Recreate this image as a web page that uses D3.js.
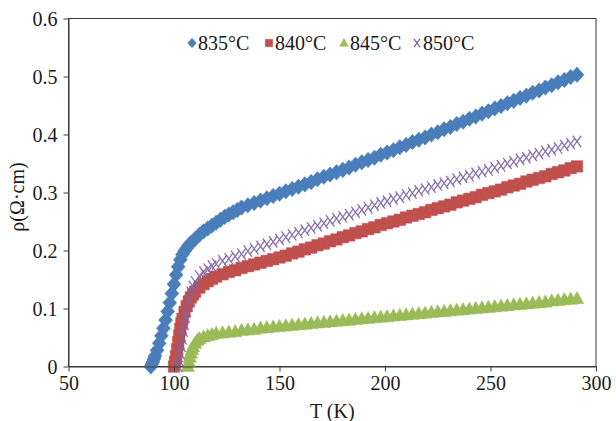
<!DOCTYPE html>
<html><head><meta charset="utf-8">
<script src="https://cdn.jsdelivr.net/npm/d3@7"></script>
<style>
body{margin:0;background:#fff}
svg{display:block}
</style>
</head><body>
<svg id="c" width="616" height="421"></svg>
<script>
const seriesNames = ["835°C", "840°C", "845°C", "850°C"];
const seriesColors = ["#4A7EBB", "#C0504D", "#9BBB59", "#8064A2"];
const xTickValues = [50, 100, 150, 200, 250, 300];
const yTickValues = [0, 0.1, 0.2, 0.3, 0.4, 0.5, 0.6];
const xLabel = "T (K)";
const yLabel = "ρ(Ω·cm)";

const t835 = [89,89.5,90,90.5,91,92,93,94,95,96,97,98,99,100,101,102,103,104,105,106,107,108,
  110,112,114,116,118,120,122,124,126,128,130,132,
  135,138,141,144,147,150,153,156,159,162,165,168,171,174,177,180,183,186,189,192,195,198,201,204,207,210,
  213,216,219,222,225,228,231,234,237,240,243,246,249,252,255,258,261,264,267,270,273,276,279,282,285,288,291];
const r835 = [0,.004,.008,.013,.018,.028,.040,.053,.066,.080,.095,.110,.126,.142,.158,.172,.184,.193,.199,.204,.209,.213,
  .220,.227,.233,.238,.243,.248,.253,.258,.262,.266,.270,.274,
  .278,.282,.286,.290,.294,.298,.302,.306,.310,.314,.318,.323,.327,.331,.335,.339,.343,.348,.352,.356,.360,.365,.369,.373,.378,.382,
  .387,.391,.395,.400,.404,.409,.413,.418,.422,.427,.431,.436,.440,.445,.449,.454,.458,.463,.467,.472,.476,.481,.485,.490,.494,.499,.503];

const t840 = [100,100.5,101,101.5,102,102.5,103,103.5,104,105,106,107,108,109,110,112,114,116,118,120,
  123,126,129,132,135,138,141,144,147,150,153,156,159,162,165,168,171,174,177,180,183,186,189,192,195,198,201,204,207,210,
  213,216,219,222,225,228,231,234,237,240,243,246,249,252,255,258,261,264,267,270,273,276,279,282,285,288,291];
const r840 = [0,.008,.018,.030,.042,.054,.065,.074,.082,.094,.104,.112,.119,.124,.129,.136,.142,.147,.151,.155,
  .159,.163,.166,.170,.173,.176,.179,.182,.185,.188,.191,.195,.198,.202,.205,.209,.212,.216,.219,.223,.226,.230,.233,.237,.240,.244,.247,.250,.253,.257,
  .260,.263,.266,.270,.273,.276,.279,.283,.286,.289,.292,.296,.299,.302,.305,.309,.312,.315,.319,.322,.325,.328,.332,.335,.338,.342,.345];

const t845 = [106.5,107,107.5,108,108.5,109,110,111,112,114,116,118,
  120,123,126,129,132,135,138,141,144,147,150,153,156,159,162,165,168,171,174,177,180,183,186,189,192,195,198,201,204,207,210,
  213,216,219,222,225,228,231,234,237,240,243,246,249,252,255,258,261,264,267,270,273,276,279,282,285,288,291];
const r845 = [0,.008,.016,.023,.029,.034,.040,.045,.048,.051,.053,.055,
  .057,.058,.059,.060,.062,.063,.064,.066,.067,.068,.069,.070,.071,.072,.073,.074,.075,.076,.077,.078,.079,.080,.081,.082,.083,.084,.085,.086,.087,.088,.089,
  .090,.091,.092,.093,.094,.095,.096,.097,.098,.099,.100,.101,.102,.103,.104,.105,.106,.107,.108,.109,.110,.111,.113,.114,.115,.116,.117];

const t850 = [102,102.5,103,103.5,104,104.5,105,105.5,106,107,108,109,110,112,114,116,118,120,
  123,126,129,132,135,138,141,144,147,150,153,156,159,162,165,168,171,174,177,180,183,186,189,192,195,198,201,204,207,210,
  213,216,219,222,225,228,231,234,237,240,243,246,249,252,255,258,261,264,267,270,273,276,279,282,285,288,291];
const r850 = [0,.010,.022,.035,.048,.061,.073,.085,.096,.114,.128,.138,.146,.156,.163,.168,.173,.177,
  .182,.186,.190,.194,.199,.203,.207,.211,.215,.219,.223,.227,.231,.235,.239,.243,.247,.251,.255,.258,.262,.266,.270,.274,.278,.282,.285,.289,.292,.296,
  .299,.303,.306,.309,.313,.316,.319,.323,.326,.329,.333,.336,.339,.343,.346,.350,.353,.357,.360,.364,.367,.371,.374,.377,.381,.384,.388];

const seriesT = [t835, t840, t845, t850];
const seriesR = [r835, r840, r845, r850];
const shapes = ["diamond", "square", "triangle", "cross"];
const drawOrder = [0, 1, 2, 3];

const svg = d3.select("#c");
const margin = {left: 68.5, right: 20, top: 18.5, bottom: 54.5};
const W = 616, H = 421;
const x = d3.scaleLinear().domain([50, 300]).range([margin.left, W - margin.right]);
const y = d3.scaleLinear().domain([0, 0.6]).range([H - margin.bottom, margin.top]);

const FONT = '"Liberation Serif"';
const axisColor = "#3a3a3a";
const textColor = "#1a1a1a";

function markerPath(shape, s) {
  const p = d3.path();
  if (shape === "diamond") {
    p.moveTo(0, -s * 1.05); p.lineTo(s * 0.95, 0); p.lineTo(0, s * 1.05); p.lineTo(-s * 0.95, 0); p.closePath();
  } else if (shape === "square") {
    p.rect(-s * 0.8, -s * 0.8, s * 1.6, s * 1.6);
  } else if (shape === "triangle") {
    p.moveTo(0, -s * 1.0); p.lineTo(s * 0.95, s * 0.7); p.lineTo(-s * 0.95, s * 0.7); p.closePath();
  } else {
    p.moveTo(-s * 0.7, -s * 0.95); p.lineTo(s * 0.7, s * 0.95);
    p.moveTo(s * 0.7, -s * 0.95); p.lineTo(-s * 0.7, s * 0.95);
  }
  return p.toString();
}

// plot frame
svg.append("rect").attr("x", x(50)).attr("y", y(0.6))
  .attr("width", x(300) - x(50)).attr("height", y(0) - y(0.6))
  .attr("fill", "none").attr("stroke", axisColor).attr("stroke-width", 1);

// series
const plot = svg.append("g");
const markerSize = {diamond: 7.4, square: 7.2, triangle: 7.2, cross: 6.0};
drawOrder.forEach(i => {
  const n = Math.min(seriesT[i].length, seriesR[i].length);
  const pts = d3.range(n).map(k => [seriesT[i][k], seriesR[i][k]]);
  const g = plot.append("g");
  const shape = shapes[i];
  g.selectAll("path").data(pts).join("path")
    .attr("transform", d => `translate(${x(d[0])},${y(d[1])})`)
    .attr("d", markerPath(shape, markerSize[shape]))
    .attr("fill", shape === "cross" ? "none" : seriesColors[i])
    .attr("stroke", seriesColors[i])
    .attr("stroke-opacity", shape === "cross" ? 0.9 : 0.6)
    .attr("stroke-width", shape === "cross" ? 1.3 : 0.8);
});

// axes
const xAxis = d3.axisBottom(x).tickValues(xTickValues).tickSize(5).tickSizeOuter(0).tickFormat(d3.format("d"));
const yAxis = d3.axisLeft(y).tickValues(yTickValues).tickSize(5).tickSizeOuter(0).tickFormat(d => d === 0 ? "0" : d3.format(".1f")(d));
const gx = svg.append("g").attr("transform", `translate(0,${y(0)})`).call(xAxis);
const gy = svg.append("g").attr("transform", `translate(${x(50)},0)`).call(yAxis);
[gx, gy].forEach(g => {
  g.attr("font-family", null).attr("font-size", null);
  g.select(".domain").attr("stroke", axisColor);
  g.selectAll(".tick line").attr("stroke", axisColor);
  g.selectAll(".tick text").style("font-family", FONT).style("font-size", "20px").attr("fill", textColor);
});
gx.selectAll(".tick text").attr("dy", "0.71em").attr("y", 9);
gy.selectAll(".tick text").attr("x", -11).attr("dy", "0.35em");

// axis titles
svg.append("text").attr("x", (x(50) + x(300)) / 2).attr("y", 418)
  .attr("text-anchor", "middle").style("font-family", FONT).style("font-size", "20px").attr("fill", textColor)
  .text(xLabel);
svg.append("text").attr("transform", `translate(24,197) rotate(-90)`)
  .attr("text-anchor", "middle").style("font-family", FONT).style("font-size", "20px").attr("fill", textColor)
  .text(yLabel);

// legend
const legendX = [192, 269, 344, 417];
const legendY = 43;
const leg = svg.append("g");
seriesNames.forEach((name, i) => {
  const shape = shapes[i];
  leg.append("path")
    .attr("transform", `translate(${legendX[i]},${legendY})`)
    .attr("d", markerPath(shape, shape === "cross" ? 4.3 : 4.6))
    .attr("fill", shape === "cross" ? "none" : seriesColors[i])
    .attr("stroke", seriesColors[i])
    .attr("stroke-width", shape === "cross" ? 1.3 : 0.5);
  leg.append("text").attr("x", legendX[i] + 6).attr("y", legendY).attr("dy", "0.35em")
    .style("font-family", FONT).style("font-size", "20px").attr("fill", textColor)
    .text(name);
});
</script>
</body></html>
